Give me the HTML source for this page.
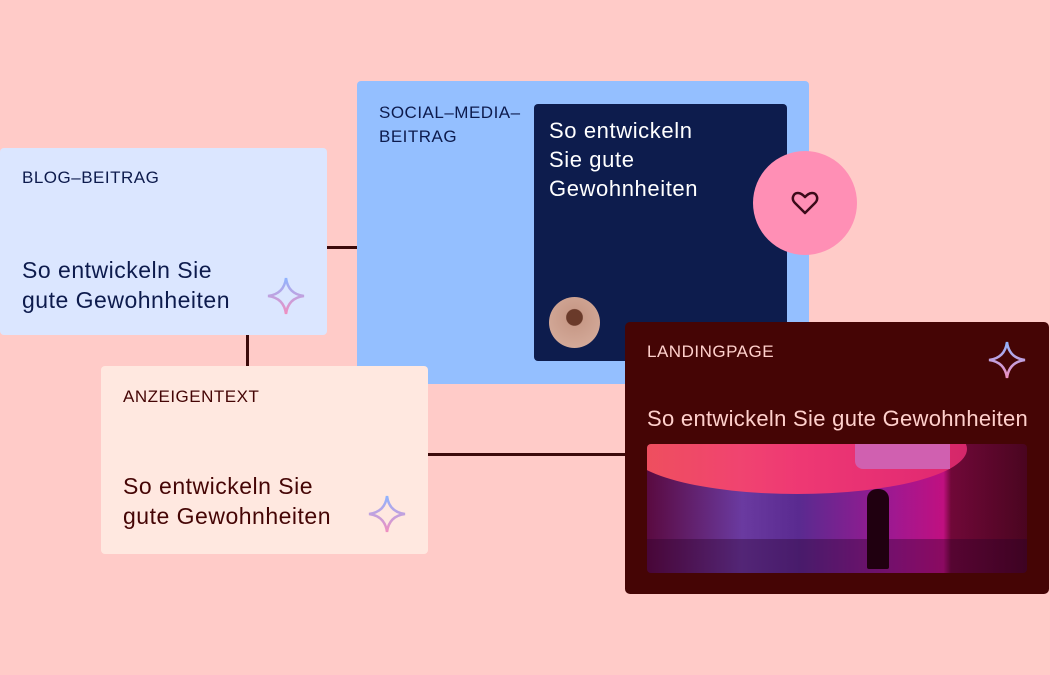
<!DOCTYPE html>
<html><head><meta charset="utf-8"><style>
body{margin:0;width:1050px;height:675px;background:#ffcbc8;position:relative;overflow:hidden;font-family:"Liberation Sans",sans-serif}
.a{position:absolute}
.lab{font-size:17px;letter-spacing:0.5px}
.big{font-size:23px;line-height:30px;letter-spacing:0.5px}
</style></head><body>
<div class="a" style="left:326px;top:246px;width:32px;height:3px;background:#3c0a0a"></div>
<div class="a" style="left:246px;top:334px;width:3px;height:33px;background:#3c0a0a"></div>
<div class="a" style="left:427px;top:453px;width:200px;height:3px;background:#3c0a0a"></div>

<div class="a" style="left:0;top:148px;width:327px;height:187px;background:#dbe6ff;border-radius:4px"></div>
<div class="a lab" style="left:22px;top:168px;color:#0d1b4d">BLOG–BEITRAG</div>
<div class="a big" style="left:22px;top:255px;color:#0d1b4d">So entwickeln Sie<br>gute Gewohnheiten</div>
<svg class="a" style="left:266px;top:276px" width="40" height="40" viewBox="0 0 40 40"><defs><linearGradient id="g" x1="0" y1="0" x2="0" y2="1"><stop offset="0" stop-color="#8fb4ff"/><stop offset="1" stop-color="#f08fc0"/></linearGradient></defs><path d="M20 2 Q22 18 38 20 Q22 22 20 38 Q18 22 2 20 Q18 18 20 2Z" fill="none" stroke="url(#g)" stroke-width="2.5"/></svg>

<div class="a" style="left:357px;top:81px;width:452px;height:303px;background:#94bfff;border-radius:4px"></div>
<div class="a lab" style="left:379px;top:101px;color:#0d1b4d;line-height:24px">SOCIAL–MEDIA–<br>BEITRAG</div>
<div class="a" style="left:534px;top:104px;width:253px;height:257px;background:#0d1c4d;border-radius:4px"></div>
<div class="a big" style="left:549px;top:116px;color:#fff;line-height:29px;font-size:22px;letter-spacing:0.6px">So entwickeln<br>Sie gute<br>Gewohnheiten</div>
<div class="a" style="left:549px;top:297px;width:51px;height:51px;border-radius:50%;background:radial-gradient(circle at 50% 40%,#6a3a2a 0 20%,#c89a88 22%,#d8b0a0)"></div>
<div class="a" style="left:753px;top:151px;width:104px;height:104px;border-radius:50%;background:#ff8fb5"></div>
<svg class="a" style="left:791px;top:190px" width="28" height="26" viewBox="0 0 28 26"><path d="M14 23 L4 13 C0 9 2 3 7 3 C10 3 12 5 14 7 C16 5 18 3 21 3 C26 3 28 9 24 13Z" fill="none" stroke="#3c0a1a" stroke-width="2.5" stroke-linejoin="round"/></svg>

<div class="a" style="left:101px;top:366px;width:327px;height:188px;background:#ffe8e0;border-radius:4px"></div>
<div class="a lab" style="left:123px;top:387px;color:#450505">ANZEIGENTEXT</div>
<div class="a big" style="left:123px;top:471px;color:#450505">So entwickeln Sie<br>gute Gewohnheiten</div>
<svg class="a" style="left:367px;top:494px" width="40" height="40" viewBox="0 0 40 40"><path d="M20 2 Q22 18 38 20 Q22 22 20 38 Q18 22 2 20 Q18 18 20 2Z" fill="none" stroke="url(#g)" stroke-width="2.5"/></svg>

<div class="a" style="left:625px;top:322px;width:424px;height:272px;background:#450505;border-radius:5px"></div>
<div class="a lab" style="left:647px;top:342px;color:#ffd0cc">LANDINGPAGE</div>
<svg class="a" style="left:987px;top:340px" width="40" height="40" viewBox="0 0 40 40"><path d="M20 2 Q22 18 38 20 Q22 22 20 38 Q18 22 2 20 Q18 18 20 2Z" fill="none" stroke="url(#g)" stroke-width="2.5"/></svg>
<div class="a big" style="left:647px;top:404px;color:#ffd0cc;font-size:22px;letter-spacing:0.3px">So entwickeln Sie gute Gewohnheiten</div>
<div class="a" style="left:647px;top:444px;width:380px;height:129px;border-radius:4px;overflow:hidden;background:linear-gradient(90deg,#5a0a40 0%,#6a3aa0 25%,#5a2a90 40%,#a01890 65%,#c01080 78%,#700838 80%,#4a0520 100%)">
<div class="a" style="left:-20px;top:-40px;width:340px;height:90px;border-radius:50%;background:linear-gradient(90deg,#ff5a60,#ff3a70,#e02a70);opacity:.9"></div>
<div class="a" style="left:208px;top:0;width:95px;height:25px;background:#d060b0;border-radius:0 0 0 8px"></div>
<div class="a" style="left:0;top:95px;width:380px;height:34px;background:rgba(40,0,40,.35)"></div>
<div class="a" style="left:220px;top:45px;width:22px;height:80px;background:#200010;border-radius:10px 10px 2px 2px"></div>
</div>
</body></html>
